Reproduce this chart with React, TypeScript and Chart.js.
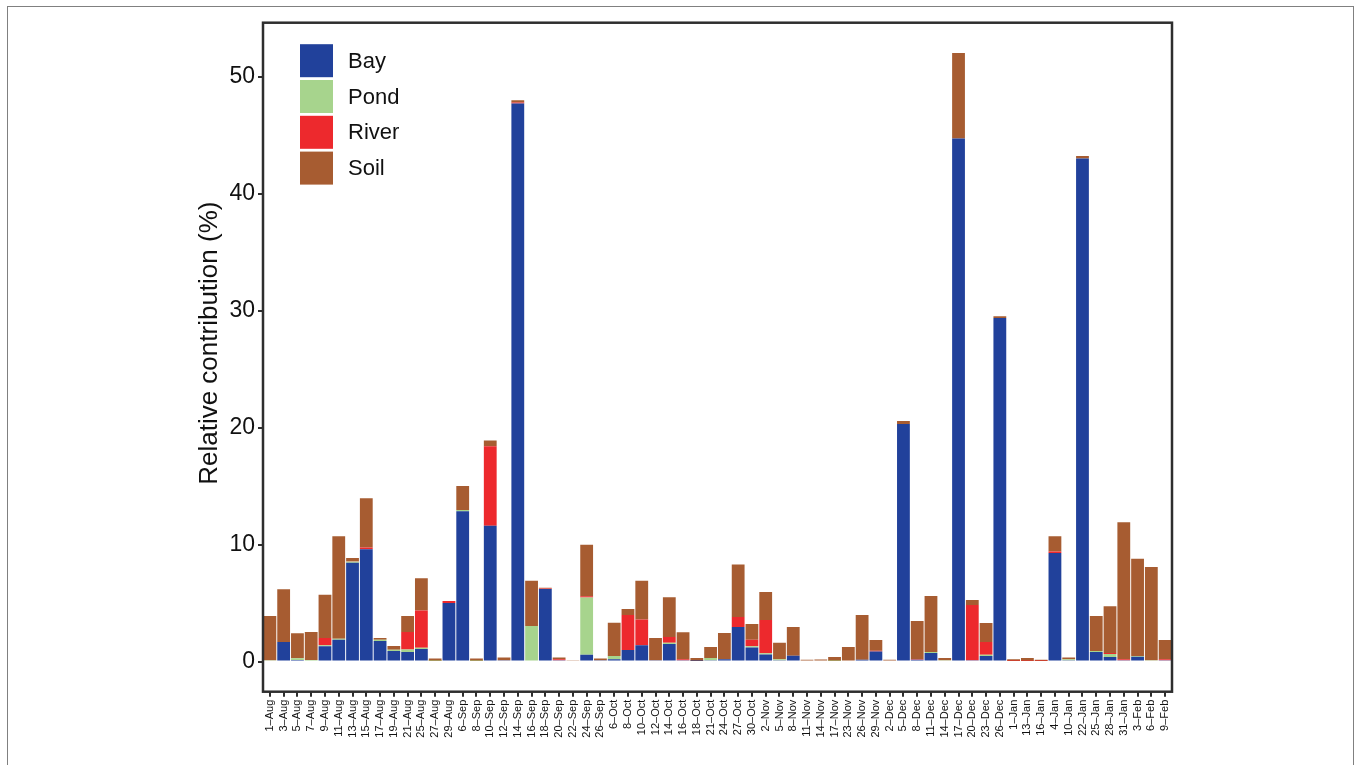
import { useEffect, useRef } from "react";
import { Chart, registerables } from "chart.js";

Chart.register(...registerables);

const categories = [
  "1–Aug", "3–Aug", "5–Aug", "7–Aug", "9–Aug", "11–Aug", "13–Aug", "15–Aug", "17–Aug", "19–Aug", "21–Aug", "25–Aug", "27–Aug", "29–Aug",
  "6–Sep", "8–Sep", "10–Sep", "12–Sep", "14–Sep", "16–Sep", "18–Sep", "20–Sep", "22–Sep", "24–Sep", "26–Sep",
  "6–Oct", "8–Oct", "10–Oct", "12–Oct", "14–Oct", "16–Oct", "18–Oct", "21–Oct", "24–Oct", "27–Oct", "30–Oct",
  "2–Nov", "5–Nov", "8–Nov", "11–Nov", "14–Nov", "17–Nov", "23–Nov", "26–Nov", "29–Nov",
  "2–Dec", "5–Dec", "8–Dec", "11–Dec", "14–Dec", "17–Dec", "20–Dec", "23–Dec", "26–Dec",
  "1–Jan", "13–Jan", "16–Jan", "4–Jan", "10–Jan", "22–Jan", "25–Jan", "28–Jan", "31–Jan",
  "3–Feb", "6–Feb", "9–Feb",
];

const bay = [
  0, 1.67, 0.12, 0, 1.3, 1.85, 8.45, 9.6, 1.75, 0.9, 0.82, 1.07, 0, 5.0,
  12.85, 0, 11.6, 0.1, 47.7, 0, 6.2, 0.1, 0, 0.57, 0.1,
  0.2, 0.98, 1.4, 0.1, 1.5, 0.1, 0.05, 0.1, 0.2, 2.95, 1.2,
  0.6, 0.1, 0.5, 0, 0, 0, 0, 0.15, 0.85,
  0, 20.3, 0.15, 0.73, 0, 44.7, 0.1, 0.47, 29.35,
  0, 0, 0, 9.27, 0.1, 43.0, 0.82, 0.39, 0.1,
  0.4, 0, 0.1,
];

const pond = [
  0.1, 0, 0.15, 0.12, 0.1, 0.1, 0.1, 0, 0.12, 0.1, 0.2, 0.1, 0.05, 0,
  0.1, 0.05, 0, 0, 0, 3.03, 0, 0, 0, 4.9, 0,
  0.27, 0, 0, 0, 0.1, 0, 0, 0.2, 0, 0, 0.1,
  0.1, 0.1, 0, 0, 0.08, 0.05, 0, 0, 0,
  0, 0, 0, 0.08, 0.1, 0, 0, 0.1, 0,
  0, 0, 0, 0, 0.1, 0, 0.08, 0.26, 0,
  0.08, 0.1, 0,
];

const river = [
  0, 0, 0, 0, 0.6, 0, 0.05, 0.15, 0, 0, 1.5, 3.2, 0, 0.17,
  0, 0, 6.8, 0, 0.08, 0, 0.05, 0.1, 0, 0.1, 0,
  0, 3.0, 2.2, 0, 0.5, 0.1, 0, 0, 0, 0.85, 0.55,
  2.85, 0, 0, 0, 0, 0, 0, 0, 0.08,
  0, 0, 0.05, 0, 0, 0, 4.74, 1.1, 0,
  0.05, 0.05, 0.05, 0.13, 0, 0, 0, 0.08, 0.1,
  0, 0, 0.1,
];

const soil = [
  3.8, 4.5, 2.15, 2.4, 3.7, 8.75, 0.25, 4.2, 0.15, 0.33, 1.38, 2.75, 0.2, 0,
  2.05, 0.2, 0.5, 0.25, 0.2, 3.87, 0.05, 0.15, 0.1, 4.4, 0.15,
  2.85, 0.5, 3.3, 1.9, 3.4, 2.3, 0.25, 0.95, 2.24, 4.5, 1.36,
  2.4, 1.4, 2.45, 0.15, 0.1, 0.33, 1.25, 3.82, 0.9,
  0.15, 0.25, 3.26, 4.8, 0.2, 7.3, 0.42, 1.63, 0.15,
  0.15, 0.25, 0.1, 1.3, 0.15, 0.2, 3.0, 4.0, 11.7,
  8.3, 7.98, 1.64,
];

const seriesNames = ["Bay", "Pond", "River", "Soil"];
const seriesColors = ["#21419b", "#a7d48d", "#ed292d", "#a75c31"];
const yTickValues = [0, 10, 20, 30, 40, 50];
const yTitle = "Relative contribution (%)";

const FONT = "'Liberation Sans', Arial, Helvetica, sans-serif";

const decorPlugin = {
  id: "decor",
  afterDatasetsDraw(chart: any) {
    const { ctx, chartArea: a } = chart;
    ctx.save();
    // plot frame
    ctx.strokeStyle = "#2e2e2e";
    ctx.lineWidth = 2.5;
    ctx.strokeRect(a.left, a.top, a.right - a.left, a.bottom - a.top);
    // legend
    const x0 = a.left + 37;
    const y0 = a.top + 21.5;
    const box = 33;
    const step = 35.8;
    ctx.font = `22px ${FONT}`;
    ctx.textBaseline = "middle";
    ctx.textAlign = "left";
    chart.data.datasets.forEach((ds: any, i: number) => {
      ctx.fillStyle = ds.backgroundColor;
      ctx.fillRect(x0, y0 + i * step, box, box);
      ctx.fillStyle = "#111";
      ctx.fillText(ds.label, x0 + 48, y0 + i * step + box / 2 + 1);
    });
    // y title
    ctx.translate(217, (a.top + a.bottom) / 2 - 14);
    ctx.rotate(-Math.PI / 2);
    ctx.font = `26px ${FONT}`;
    ctx.textAlign = "center";
    ctx.textBaseline = "alphabetic";
    ctx.fillStyle = "#111";
    ctx.fillText(yTitle, 0, 0);
    ctx.restore();
  },
};

export default function App() {
  const ref = useRef<HTMLCanvasElement | null>(null);

  useEffect(() => {
    if (!ref.current) return;
    const seriesData = [bay, pond, river, soil];
    const chart = new Chart(ref.current, {
      type: "bar",
      data: {
        labels: categories,
        datasets: seriesNames.map((name, i) => ({
          label: name,
          data: seriesData[i],
          backgroundColor: seriesColors[i],
          borderWidth: 0,
          barPercentage: 0.93,
          categoryPercentage: 1,
        })),
      },
      options: {
        responsive: false,
        animation: false,
        devicePixelRatio: 1,
        layout: { padding: { left: 0, right: 184, top: 22.7, bottom: 0 } },
        plugins: {
          legend: { display: false },
          tooltip: { enabled: false },
          title: { display: false },
        },
        scales: {
          x: {
            stacked: true,
            offset: true,
            border: { display: false },
            grid: {
              offset: false,
              drawOnChartArea: false,
              drawTicks: true,
              tickLength: 5,
              color: "#2e2e2e",
              lineWidth: 2,
            },
            ticks: {
              autoSkip: false,
              maxRotation: 90,
              minRotation: 90,
              padding: 3,
              color: "#111",
              font: { family: FONT, size: 11 },
            },
            afterFit: (s: any) => {
              s.height = 73.3;
            },
          },
          y: {
            stacked: true,
            min: -2.58,
            max: 54.6,
            border: { display: false },
            grid: {
              drawOnChartArea: false,
              drawTicks: true,
              tickLength: 5,
              color: "#2e2e2e",
              lineWidth: 2,
            },
            ticks: {
              padding: 3,
              color: "#111",
              font: { family: FONT, size: 23 },
            },
            afterBuildTicks: (s: any) => {
              s.ticks = yTickValues.map((v) => ({ value: v }));
            },
            afterFit: (s: any) => {
              s.width = 263;
            },
          },
        },
      },
      plugins: [decorPlugin],
    });
    return () => chart.destroy();
  }, []);

  return (
    <>
      <div
        style={{
          position: "fixed",
          left: 7,
          top: 6,
          right: 2,
          bottom: -20,
          border: "1.3px solid #808080",
        }}
      />
      <canvas
        ref={ref}
        width={1356}
        height={765}
        style={{ position: "fixed", left: 0, top: 0, width: 1356, height: 765 }}
      />
    </>
  );
}
